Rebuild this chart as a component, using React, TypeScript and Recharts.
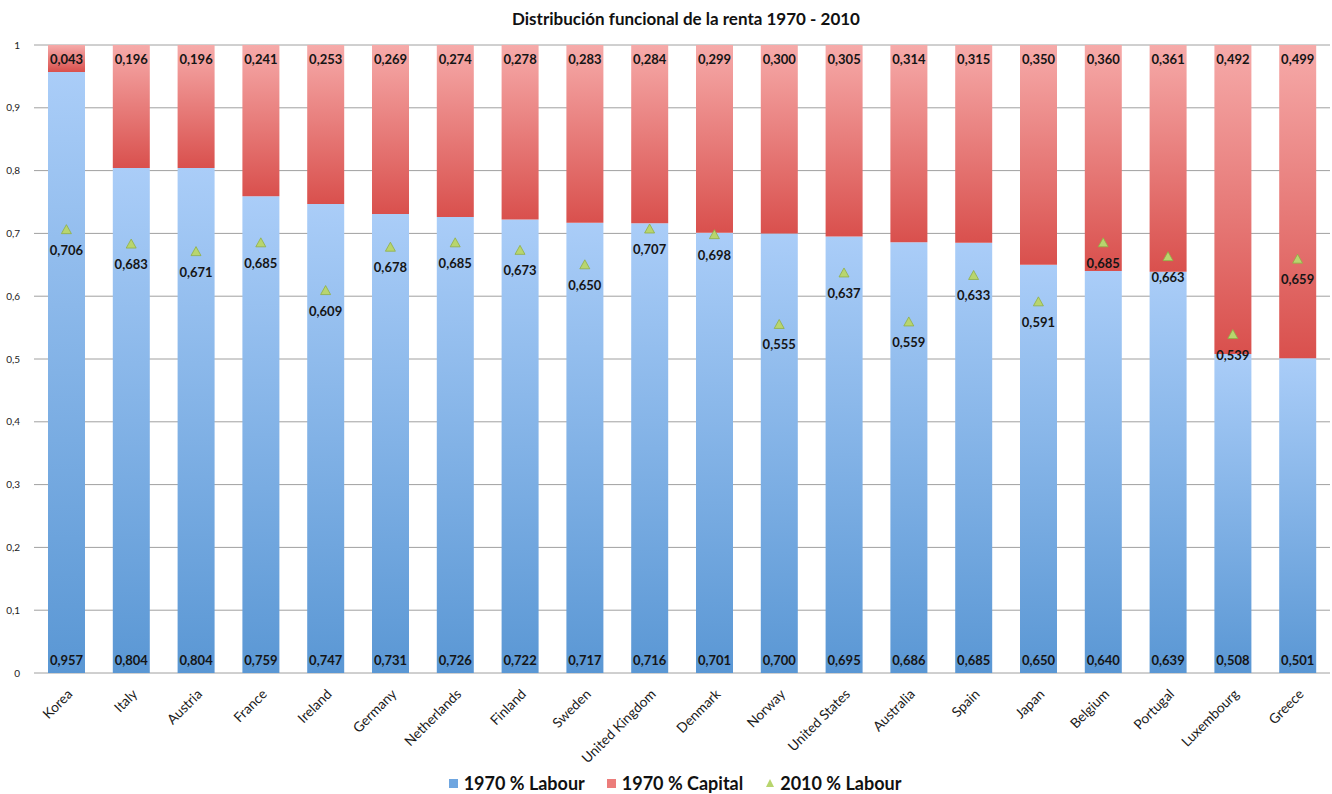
import React from 'react';
import { ComposedChart, Bar, Line, XAxis, YAxis, CartesianGrid, Legend, LabelList } from 'recharts';

const countries = ['Korea', 'Italy', 'Austria', 'France', 'Ireland', 'Germany', 'Netherlands', 'Finland', 'Sweden', 'United Kingdom', 'Denmark', 'Norway', 'United States', 'Australia', 'Spain', 'Japan', 'Belgium', 'Portugal', 'Luxembourg', 'Greece'];
const labour1970 = [0.957, 0.804, 0.804, 0.759, 0.747, 0.731, 0.726, 0.722, 0.717, 0.716, 0.701, 0.700, 0.695, 0.686, 0.685, 0.650, 0.640, 0.639, 0.508, 0.501];
const capital1970 = [0.043, 0.196, 0.196, 0.241, 0.253, 0.269, 0.274, 0.278, 0.283, 0.284, 0.299, 0.300, 0.305, 0.314, 0.315, 0.350, 0.360, 0.361, 0.492, 0.499];
const labour2010 = [0.706, 0.683, 0.671, 0.685, 0.609, 0.678, 0.685, 0.673, 0.650, 0.707, 0.698, 0.555, 0.637, 0.559, 0.633, 0.591, 0.685, 0.663, 0.539, 0.659];
const yTicks = [0, 0.1, 0.2, 0.3, 0.4, 0.5, 0.6, 0.7, 0.8, 0.9, 1];

const data = countries.map((c, i) => ({
  country: c,
  labour1970: labour1970[i],
  capital1970: capital1970[i],
  labour2010: labour2010[i],
}));

const FONT = 'Lato, "Open Sans", sans-serif';
const fmt = (v: number) => v.toFixed(3).replace('.', ',');
const fmtTick = (v: number) => (v === 0 ? '0' : v === 1 ? '1' : v.toFixed(1).replace('.', ','));

const BottomLabel = (props: any) => {
  const { x, y, width, height, value } = props;
  return (
    <text x={x + width / 2} y={y + height - 13} textAnchor="middle" dominantBaseline="central"
      fontFamily={FONT} fontWeight={700} fontSize={13} fill="#151515">{fmt(value)}</text>
  );
};

const TopLabel = (props: any) => {
  const { x, y, width, value } = props;
  return (
    <text x={x + width / 2} y={y + 14} textAnchor="middle" dominantBaseline="central"
      fontFamily={FONT} fontWeight={700} fontSize={13} fill="#151515">{fmt(value)}</text>
  );
};

const TriangleDot = (props: any) => {
  const { cx, cy, payload, index } = props;
  if (cx == null || cy == null) return null;
  return (
    <g key={`tri-${index}`}>
      <path d={`M${cx},${cy - 5} L${cx + 5},${cy + 4} L${cx - 5},${cy + 4} Z`} fill="#b8d56e" stroke="#8fae45" strokeWidth={0.8} />
      <text x={cx} y={cy + 20} textAnchor="middle" dominantBaseline="central"
        fontFamily={FONT} fontWeight={700} fontSize={13} fill="#151515">{fmt(payload.labour2010)}</text>
    </g>
  );
};

const XTick = (props: any) => {
  const { x, y, payload } = props;
  const ax = x + 7;
  const ay = y + 14;
  return (
    <text x={ax} y={ay} transform={`rotate(-45 ${ax} ${ay})`} textAnchor="end"
      fontFamily={FONT} fontSize={13.7} fill="#1a1a1a">{payload.value}</text>
  );
};

const LegendContent = () => {
  const items = [
    { label: '1970 % Labour', color: '#6fa6e0', shape: 'square' },
    { label: '1970 % Capital', color: '#ec7d7b', shape: 'square' },
    { label: '2010 % Labour', color: '#b8d56e', shape: 'triangle' },
  ];
  return (
    <div style={{ display: 'flex', justifyContent: 'center', alignItems: 'center', height: 30, paddingTop: 8, paddingLeft: 20, boxSizing: 'border-box', fontFamily: FONT, fontWeight: 700, fontSize: 18, color: '#111' }}>
      {items.map((it) => (
        <div key={it.label} style={{ display: 'flex', alignItems: 'center', margin: '0 11px' }}>
          <svg width={10} height={10} style={{ marginRight: 5 }}>
            {it.shape === 'square' ? <rect x={0} y={1} width={9} height={9} fill={it.color} /> : <path d="M5,1 L9,9 L1,9 Z" fill={it.color} />}
          </svg>
          <span>{it.label}</span>
        </div>
      ))}
    </div>
  );
};

export default function App() {
  return (
    <div style={{ position: 'absolute', left: 0, top: 0, width: 1332, height: 794, background: '#fff' }}>
      <div style={{ position: 'absolute', left: 0, top: 8, width: 1372, textAlign: 'center', fontFamily: FONT, fontWeight: 700, fontSize: 17, color: '#111' }}>
        Distribución funcional de la renta 1970 - 2010
      </div>
      <ComposedChart width={1332} height={794} data={data} margin={{ top: 45, right: 2, left: 0, bottom: 0 }} barSize={37}>
        <defs>
          <linearGradient id="gBlue" x1="0" y1="0" x2="0" y2="1">
            <stop offset="0%" stopColor="#aacdf8" />
            <stop offset="100%" stopColor="#5a97d4" />
          </linearGradient>
          <linearGradient id="gRed" x1="0" y1="0" x2="0" y2="1">
            <stop offset="0%" stopColor="#f6aaa9" />
            <stop offset="100%" stopColor="#d9504d" />
          </linearGradient>
        </defs>
        <CartesianGrid vertical={false} stroke="#a0a0a0" strokeWidth={1} />
        <XAxis dataKey="country" interval={0} tickLine={false} axisLine={false} height={91} tick={<XTick />} />
        <YAxis domain={[0, 1]} ticks={yTicks} width={34} tickLine={false} axisLine={false} tickFormatter={fmtTick}
          tick={{ fontFamily: FONT, fontSize: 10, fill: '#222' }} tickMargin={8} />
        <Legend verticalAlign="bottom" content={<LegendContent />} />
        <Bar dataKey="labour1970" stackId="a" fill="url(#gBlue)" isAnimationActive={false} name="1970 % Labour">
          <LabelList dataKey="labour1970" content={<BottomLabel />} />
        </Bar>
        <Bar dataKey="capital1970" stackId="a" fill="url(#gRed)" isAnimationActive={false} name="1970 % Capital">
          <LabelList dataKey="capital1970" content={<TopLabel />} />
        </Bar>
        <Line dataKey="labour2010" stroke="none" isAnimationActive={false} dot={<TriangleDot />} activeDot={false} name="2010 % Labour" />
      </ComposedChart>
    </div>
  );
}
